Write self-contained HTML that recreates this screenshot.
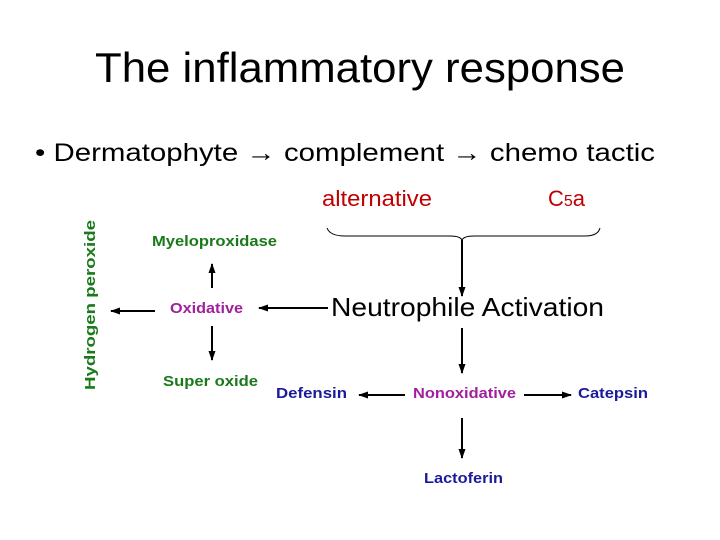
<!DOCTYPE html>
<html><head><meta charset="utf-8"><style>
html,body{margin:0;padding:0;background:#fff;}
svg{display:block;font-family:"Liberation Sans",Arial,sans-serif;}
</style></head><body>
<svg width="720" height="540" viewBox="0 0 720 540" xmlns="http://www.w3.org/2000/svg">
<defs>
<marker id="a" markerWidth="10" markerHeight="10" refX="9" refY="5" orient="auto" markerUnits="userSpaceOnUse">
<path d="M0,1.5 L10,5 L0,8.5 Z" fill="#000"/></marker>
</defs>
<rect width="720" height="540" fill="#fff"/>
<text x="95" y="82" font-size="42" textLength="530" lengthAdjust="spacingAndGlyphs">The inflammatory response</text>
<text x="35" y="161" font-size="25" textLength="620" lengthAdjust="spacingAndGlyphs">•  Dermatophyte → complement → chemo tactic</text>
<text x="322" y="206" font-size="22" fill="#c00000" textLength="110" lengthAdjust="spacingAndGlyphs">alternative</text>
<text x="548" y="206" font-size="22" fill="#c00000">C<tspan font-size="16">5</tspan>a</text>
<path d="M327,228 Q330,236 345,236 L450,236 Q460,236 462,240 Q464,236 474,236 L585,236 Q598,236 600,228" fill="none" stroke="#000" stroke-width="1"/>
<g stroke="#000" stroke-width="2" fill="none">
<line x1="462" y1="240" x2="462" y2="296" marker-end="url(#a)"/>
<line x1="328" y1="308" x2="259" y2="308" marker-end="url(#a)"/>
<line x1="212" y1="288" x2="212" y2="264" marker-end="url(#a)"/>
<line x1="212" y1="326" x2="212" y2="360" marker-end="url(#a)"/>
<line x1="155" y1="311" x2="111" y2="311" marker-end="url(#a)"/>
<line x1="462" y1="328" x2="462" y2="373" marker-end="url(#a)"/>
<line x1="405" y1="395" x2="359" y2="395" marker-end="url(#a)"/>
<line x1="524" y1="395" x2="571" y2="395" marker-end="url(#a)"/>
<line x1="462" y1="418" x2="462" y2="458" marker-end="url(#a)"/>
</g>
<text x="331" y="316" font-size="26" textLength="273" lengthAdjust="spacingAndGlyphs">Neutrophile Activation</text>
<text x="152" y="246" font-size="15" font-weight="bold" fill="#1a7a1a" textLength="125" lengthAdjust="spacingAndGlyphs">Myeloproxidase</text>
<text x="170" y="313" font-size="15" font-weight="bold" fill="#a020a0" textLength="73" lengthAdjust="spacingAndGlyphs">Oxidative</text>
<text x="163" y="386" font-size="15" font-weight="bold" fill="#1a7a1a" textLength="95" lengthAdjust="spacingAndGlyphs">Super oxide</text>
<text transform="translate(95,390) rotate(-90)" font-size="15" font-weight="bold" fill="#1a7a1a" textLength="170" lengthAdjust="spacingAndGlyphs">Hydrogen peroxide</text>
<text x="276" y="398" font-size="15" font-weight="bold" fill="#1a1a9a" textLength="71" lengthAdjust="spacingAndGlyphs">Defensin</text>
<text x="413" y="398" font-size="15" font-weight="bold" fill="#a020a0" textLength="103" lengthAdjust="spacingAndGlyphs">Nonoxidative</text>
<text x="578" y="398" font-size="15" font-weight="bold" fill="#1a1a9a" textLength="70" lengthAdjust="spacingAndGlyphs">Catepsin</text>
<text x="424" y="483" font-size="15" font-weight="bold" fill="#1a1a9a" textLength="79" lengthAdjust="spacingAndGlyphs">Lactoferin</text>
</svg>
</body></html>
